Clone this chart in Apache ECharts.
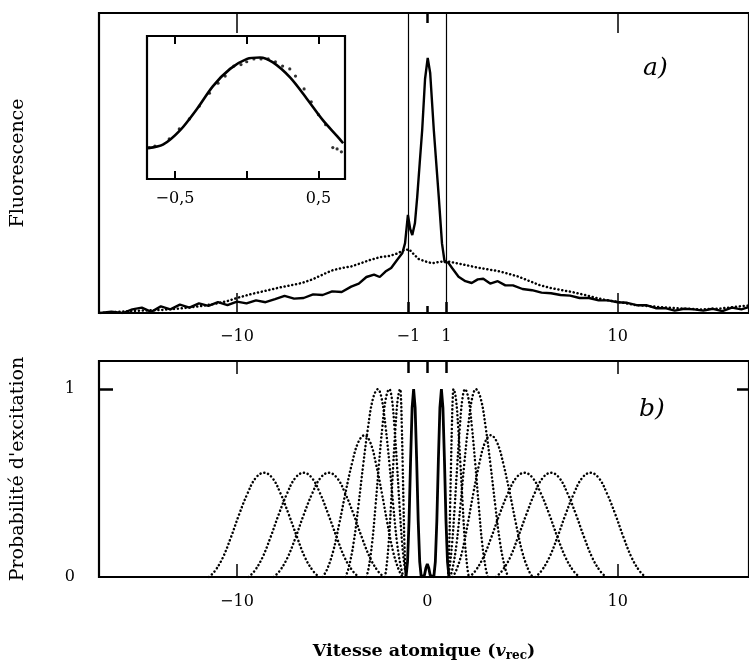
<!DOCTYPE html>
<html>
<head>
<meta charset="utf-8">
<script src="https://cdn.jsdelivr.net/npm/echarts@6/dist/echarts.min.js"></script>
<style>
  html, body { margin: 0; padding: 0; background: #fff; }
  #chart { width: 749px; height: 663px; }
</style>
</head>
<body>
<div id="chart"></div>
<script>
// panel a) : fluorescence, measured (solid) and initial (dotted)
const fluoSolid = [[-17.2,0],[-16.6,0.004],[-16.0,0],[-15.5,0.012],[-15.0,0.018],[-14.5,0.004],[-14.0,0.022],[-13.5,0.012],
  [-13.0,0.028],[-12.5,0.018],[-12.0,0.032],[-11.5,0.024],[-11.0,0.036],[-10.5,0.026],[-10.0,0.038],[-9.5,0.032],[-9.0,0.042],
  [-8.5,0.036],[-8.0,0.046],[-7.5,0.057],[-7.0,0.048],[-6.5,0.05],[-6.0,0.062],[-5.5,0.06],[-5.0,0.072],[-4.5,0.07],
  [-4.0,0.088],[-3.6,0.098],[-3.2,0.12],[-2.8,0.128],[-2.5,0.12],[-2.2,0.138],[-1.9,0.15],[-1.6,0.176],[-1.31,0.2],
  [-1.17,0.233],[-1.02,0.327],[-0.9,0.28],[-0.79,0.26],[-0.65,0.3],[-0.53,0.388],[-0.4,0.5],[-0.27,0.61],[-0.12,0.78],
  [0.02,0.85],[0.15,0.8],[0.34,0.61],[0.6,0.388],[0.77,0.232],[0.91,0.17],[1.1,0.168],[1.3,0.15],[1.64,0.121],[2.0,0.106],
  [2.33,0.1],[2.65,0.112],[2.94,0.114],[3.3,0.098],[3.7,0.106],[4.1,0.092],[4.5,0.092],[5.0,0.08],[5.5,0.076],[6.0,0.068],
  [6.5,0.066],[7.0,0.06],[7.5,0.058],[8.0,0.05],[8.5,0.05],[9.0,0.042],[9.5,0.042],[10.0,0.036],[10.5,0.034],[11.0,0.026],
  [11.5,0.026],[12.0,0.016],[12.5,0.016],[13.0,0.008],[13.5,0.014],[14.0,0.012],[14.5,0.008],[15.0,0.014],[15.5,0.006],
  [16.0,0.018],[16.5,0.012],[16.9,0.02]];
const fluoDotted = [[-17.2,0],[-16,0.005],[-15,0.008],[-14,0.01],[-13,0.015],[-12,0.022],[-11.2,0.03],[-10.5,0.04],
  [-9.9,0.052],[-9.2,0.064],[-8.5,0.074],[-7.9,0.083],[-7.2,0.092],[-6.6,0.1],[-6.0,0.113],[-5.5,0.128],[-5.0,0.142],
  [-4.5,0.15],[-4.0,0.155],[-3.5,0.166],[-3.0,0.177],[-2.5,0.186],[-2.0,0.19],[-1.6,0.198],[-1.2,0.21],[-0.95,0.212],
  [-0.7,0.195],[-0.45,0.18],[-0.1,0.172],[0.25,0.166],[0.6,0.17],[0.98,0.173],[1.4,0.168],[2.0,0.16],[2.6,0.152],
  [3.2,0.145],[3.7,0.14],[4.2,0.132],[4.8,0.121],[5.3,0.108],[5.9,0.093],[6.5,0.083],[7.0,0.077],[7.6,0.07],[8.3,0.06],
  [8.9,0.05],[9.4,0.043],[10.2,0.035],[10.9,0.027],[11.8,0.022],[12.6,0.018],[13.4,0.015],[14.4,0.012],[15.4,0.015],
  [16.4,0.022],[16.9,0.025]];
const velLines = [-1, 1];

// inset (zoom on the central peak)
const insetCurve = [[-0.688,0.216],[-0.584,0.24],[-0.465,0.34],[-0.347,0.49],[-0.235,0.65],[-0.116,0.77],[0.002,0.84],
  [0.093,0.85],[0.183,0.815],[0.302,0.71],[0.42,0.56],[0.532,0.41],[0.63,0.3],[0.672,0.25]];
const insetDots = [[-0.68,0.22],[-0.64,0.23],[-0.54,0.28],[-0.47,0.35],[-0.4,0.42],[-0.33,0.51],[-0.26,0.6],[-0.2,0.67],
  [-0.15,0.72],[-0.09,0.79],[-0.04,0.8],[0.0,0.82],[0.05,0.84],[0.1,0.84],[0.15,0.84],[0.2,0.82],[0.25,0.79],[0.3,0.77],
  [0.34,0.72],[0.4,0.63],[0.45,0.54],[0.5,0.45],[0.55,0.38],[0.6,0.22],[0.63,0.21],[0.66,0.19]];

// panel b) : excitation probability of each pulse
const yTall = [0,0.05,0.18,0.38,0.6,0.8,0.95,1,0.95,0.8,0.6,0.38,0.18,0.05,0];
const yMid  = [0,0.038,0.136,0.287,0.453,0.604,0.717,0.755,0.717,0.604,0.453,0.287,0.136,0.038,0];
const yLow  = [0,0.028,0.1,0.211,0.333,0.444,0.527,0.555,0.527,0.444,0.333,0.211,0.1,0.028,0];
const pulseL7 = [-11.48,-11.19,-10.76,-10.32,-9.89,-9.45,-9.02,-8.58,-8.14,-7.71,-7.28,-6.84,-6.41,-5.97,-5.68];
const pulseL6 = [-9.4,-9.11,-8.68,-8.24,-7.81,-7.37,-6.94,-6.5,-6.06,-5.63,-5.2,-4.76,-4.33,-3.89,-3.6];
const pulseL5 = [-8.08,-7.79,-7.36,-6.92,-6.49,-6.05,-5.62,-5.18,-4.74,-4.31,-3.87,-3.44,-3.0,-2.57,-2.28];
const pulseL4 = [-5.5,-5.28,-4.95,-4.62,-4.29,-3.96,-3.63,-3.3,-3.0,-2.7,-2.4,-2.1,-1.8,-1.5,-1.3];
const pulseL3 = [-4.3,-4.13,-3.875,-3.62,-3.365,-3.11,-2.855,-2.6,-2.4,-2.195,-1.99,-1.79,-1.59,-1.385,-1.25];
const pulseL2 = [-3.2,-3.08,-2.9,-2.72,-2.54,-2.36,-2.18,-2.0,-1.865,-1.73,-1.595,-1.46,-1.325,-1.19,-1.1];
const pulseL1 = [-2.23,-2.15,-2.03,-1.91,-1.79,-1.67,-1.55,-1.43,-1.385,-1.34,-1.295,-1.25,-1.205,-1.16,-1.13];
const pulseR1 = [1.08,1.11,1.155,1.2,1.245,1.29,1.335,1.38,1.5,1.62,1.74,1.86,1.98,2.1,2.18];
const pulseR2 = [1.08,1.17,1.305,1.44,1.575,1.71,1.845,1.98,2.16,2.34,2.52,2.7,2.88,3.06,3.18];
const pulseR3 = [1.2,1.335,1.54,1.74,1.94,2.145,2.35,2.55,2.805,3.06,3.315,3.57,3.825,4.08,4.25];
const pulseR4 = [1.33,1.53,1.83,2.13,2.43,2.73,3.03,3.33,3.66,3.99,4.32,4.65,4.98,5.31,5.53];
const pulseR5 = [2.2,2.49,2.92,3.36,3.79,4.23,4.66,5.1,5.54,5.97,6.41,6.84,7.28,7.71,8.0];
const pulseR6 = [3.6,3.89,4.33,4.76,5.2,5.63,6.06,6.5,6.94,7.37,7.81,8.24,8.68,9.11,9.4];
const pulseR7 = [5.67,5.96,6.39,6.83,7.26,7.7,8.13,8.57,9.01,9.44,9.88,10.31,10.75,11.18,11.47];
const probSolid = [[-1.12,0],[-1.04,0.08],[-0.96,0.3],[-0.88,0.62],[-0.8,0.9],[-0.72,1],[-0.64,0.9],[-0.56,0.62],
  [-0.48,0.3],[-0.4,0.08],[-0.32,0],[-0.15,0.01],[-0.07,0.05],[0,0.07],[0.07,0.05],[0.15,0.01],[0.34,0],[0.42,0.08],
  [0.5,0.3],[0.58,0.62],[0.66,0.9],[0.74,1],[0.82,0.9],[0.9,0.62],[0.98,0.3],[1.06,0.08],[1.14,0]];

// ticks / labels
const ticksA_big = [-10, 10];
const ticksA_small = [-1, 1];
const labelsA = [-10, -1, 1, 10];
const labelsB = [-10, 0, 10];
const labelsB_y = [0, 1];
const ticksB_y = [1];
const insetTicks = [-0.5, 0, 0.5];
const insetLabels = [-0.5, 0.5];

const X_MIN = -17.25, X_MAX = 16.9;
const FONT = 'DejaVu Serif';
const fmt = v => String(v).replace('-', '\u2212').replace('.', ',');
const noLine = {show: false, onZero: false};

const chart = echarts.init(document.getElementById('chart'));

// one axis = one group of ticks (ECharts has one tick length per axis)
function xAx(grid, pos, ticks, len, w, extra) {
  return Object.assign({
    type: 'value', gridIndex: grid, position: pos, min: X_MIN, max: X_MAX,
    axisLine: noLine,
    splitLine: {show: false},
    axisTick: {show: true, inside: true, length: len, customValues: ticks, lineStyle: {color: '#000', width: w}},
    axisLabel: {show: false}
  }, extra || {});
}
const labelStyle = (vals, margin) => ({
  show: true, customValues: vals, margin: margin, color: '#000',
  fontFamily: FONT, fontSize: 16, formatter: fmt
});

const frame = {show: true, borderColor: '#000', borderWidth: 2.2, backgroundColor: 'transparent'};

function pulse(xs, ys) {
  return {
    type: 'line', xAxisIndex: 5, yAxisIndex: 1, showSymbol: false, symbol: 'none',
    smooth: 0.4, silent: true,
    data: xs.map((x, i) => [x, ys[i]]),
    lineStyle: {color: '#000', width: 2.5, type: [0.1, 3.8], cap: 'round'}
  };
}

const option = {
  animation: false,
  backgroundColor: '#fff',
  grid: [
    Object.assign({left: 99, top: 13, width: 655, height: 300}, frame),
    Object.assign({left: 99, top: 361, width: 655, height: 216}, frame),
    Object.assign({left: 147, top: 36, width: 198, height: 143}, frame)
  ],
  xAxis: [
    xAx(0, 'bottom', ticksA_big, 20, 1.5, {axisLabel: labelStyle(labelsA, 16)}),
    xAx(0, 'bottom', ticksA_small, 11, 2.5),
    xAx(0, 'bottom', [0], 7, 2.5),
    xAx(0, 'top', ticksA_big, 20, 1.5),
    xAx(0, 'top', [0], 10, 2.5),
    xAx(1, 'bottom', ticksA_big, 13, 1.5, {
      axisLabel: labelStyle(labelsB, 17),
      name: 'Vitesse atomique ({it|v}{sub|rec})', nameLocation: 'middle', nameGap: 63,
      nameTextStyle: {
        fontFamily: FONT, fontSize: 17.5, fontWeight: 'bold', color: '#000',
        rich: {
          it: {fontFamily: FONT, fontSize: 17.5, fontStyle: 'italic', color: '#000'},
          sub: {fontFamily: FONT, fontSize: 12, fontWeight: 'bold', color: '#000', padding: [10, 0, 0, 0]}
        }
      }
    }),
    xAx(1, 'top', ticksA_big, 13, 1.5),
    xAx(1, 'top', [-1, 0, 1], 12, 2.5),
    {
      type: 'value', gridIndex: 2, position: 'bottom', min: -0.695, max: 0.685,
      axisLine: noLine, splitLine: {show: false},
      axisTick: {show: true, inside: true, length: 8, customValues: insetTicks, lineStyle: {color: '#000', width: 2}},
      axisLabel: labelStyle(insetLabels, 12)
    },
    {
      type: 'value', gridIndex: 2, position: 'top', min: -0.695, max: 0.685,
      axisLine: noLine, splitLine: {show: false},
      axisTick: {show: true, inside: true, length: 8, customValues: insetTicks, lineStyle: {color: '#000', width: 2}},
      axisLabel: {show: false}
    }
  ],
  yAxis: [
    {
      type: 'value', gridIndex: 0, min: 0, max: 1,
      axisLine: noLine, axisTick: {show: false}, axisLabel: {show: false}, splitLine: {show: false},
      name: 'Fluorescence', nameLocation: 'middle', nameRotate: 90, nameGap: 71,
      nameTextStyle: {fontFamily: FONT, fontSize: 19, color: '#000'}
    },
    {
      type: 'value', gridIndex: 1, position: 'left', min: 0, max: 1.15,
      axisLine: noLine, splitLine: {show: false},
      axisTick: {show: true, inside: true, length: 14, customValues: ticksB_y, lineStyle: {color: '#000', width: 2.5}},
      axisLabel: {show: true, customValues: labelsB_y, margin: 24, color: '#000', fontFamily: FONT, fontSize: 16},
      name: "Probabilité d'excitation", nameLocation: 'middle', nameRotate: 90, nameGap: 71,
      nameTextStyle: {fontFamily: FONT, fontSize: 19, color: '#000'}
    },
    {
      type: 'value', gridIndex: 1, position: 'right', min: 0, max: 1.15,
      axisLine: noLine, splitLine: {show: false},
      axisTick: {show: true, inside: true, length: 12, customValues: ticksB_y, lineStyle: {color: '#000', width: 2.5}},
      axisLabel: {show: false}
    },
    {
      type: 'value', gridIndex: 2, min: 0, max: 1,
      axisLine: noLine, axisTick: {show: false}, axisLabel: {show: false}, splitLine: {show: false}
    }
  ],
  graphic: [
    {type: 'text', left: 643, top: 56, style: {text: 'a)', font: 'italic 25px "DejaVu Serif"', fill: '#000'}},
    {type: 'text', left: 639, top: 397, style: {text: 'b)', font: 'italic 25px "DejaVu Serif"', fill: '#000'}}
  ],
  series: [
    {
      type: 'line', xAxisIndex: 0, yAxisIndex: 0, symbol: 'none', silent: true,
      data: fluoDotted,
      lineStyle: {color: '#000', width: 2.5, type: [0.1, 3.8], cap: 'round'}
    },
    {
      type: 'line', xAxisIndex: 0, yAxisIndex: 0, symbol: 'none', silent: true,
      data: fluoSolid,
      lineStyle: {color: '#000', width: 2.4},
      markLine: {
        silent: true, symbol: ['none', 'none'], label: {show: false},
        lineStyle: {color: '#000', width: 1.2, type: 'solid'},
        data: velLines.map(v => ({xAxis: v}))
      }
    },
    {
      type: 'line', xAxisIndex: 8, yAxisIndex: 3, symbol: 'none', silent: true, smooth: 0.3,
      data: insetCurve, lineStyle: {color: '#000', width: 2.6}
    },
    {
      type: 'scatter', xAxisIndex: 8, yAxisIndex: 3, silent: true, symbolSize: 3.2,
      data: insetDots, itemStyle: {color: '#000'}
    },
    pulse(pulseL7, yLow), pulse(pulseL6, yLow), pulse(pulseL5, yLow), pulse(pulseL4, yMid),
    pulse(pulseL3, yTall), pulse(pulseL2, yTall), pulse(pulseL1, yTall),
    pulse(pulseR1, yTall), pulse(pulseR2, yTall), pulse(pulseR3, yTall),
    pulse(pulseR4, yMid), pulse(pulseR5, yLow), pulse(pulseR6, yLow), pulse(pulseR7, yLow),
    {
      type: 'line', xAxisIndex: 5, yAxisIndex: 1, symbol: 'none', silent: true,
      data: probSolid, lineStyle: {color: '#000', width: 2.8}
    }
  ]
};
chart.setOption(option);
</script>
</body>
</html>
